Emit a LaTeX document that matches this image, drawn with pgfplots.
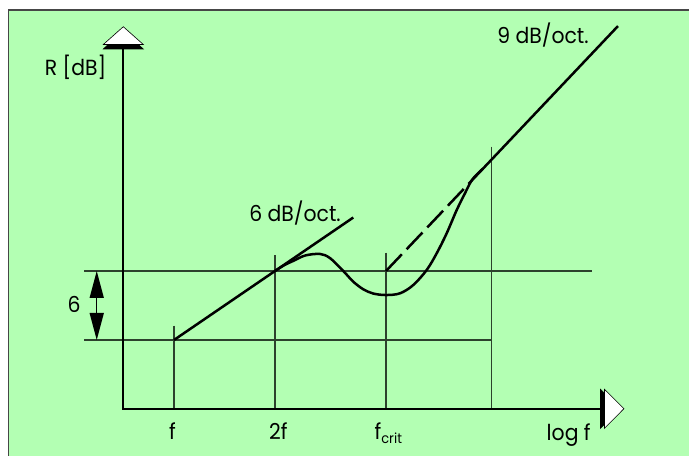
\documentclass[border=0pt]{standalone}
\usepackage{pgfplots}
\pgfplotsset{compat=1.18}
\usetikzlibrary{arrows.meta}
\usepackage{fontspec}
\setmainfont{Poppins}[FakeStretch=0.93]
\definecolor{bggreen}{RGB}{179,255,179}
\definecolor{gridc}{RGB}{45,65,45}
\definecolor{framec}{RGB}{70,70,70}
\newcommand{\lf}{\fontsize{22}{26}\selectfont}
\begin{document}
\begin{tikzpicture}
\fill[white] (0,0) rectangle (689bp,456bp);
\fill[bggreen] (8.5bp,0) rectangle (689bp,446bp);
\draw[framec, line width=1.5bp] (8.5bp,0) -- (8.5bp,446bp) -- (689bp,446bp);
\begin{axis}[
  at={(0,0)}, anchor=south west,
  scale only axis, width=689bp, height=456bp,
  xmin=-1.72277, xmax=5.09901, ymin=-10.08696, ymax=29.56522,
  axis lines=none, clip=false,
]
% thin reference lines
\addplot[gridc, line width=1.1bp] coordinates {(0,1.24) (0,-6)};
\addplot[gridc, line width=1.1bp] coordinates {(1,7.39) (1,-6)};
\addplot[gridc, line width=1.1bp] coordinates {(2.099,7.59) (2.099,-6)};
\addplot[gridc, line width=1.1bp] coordinates {(3.146,16.81) (3.146,-6)};
\addplot[gridc, line width=1.1bp] coordinates {(-0.891,6) (4.135,6)};
\addplot[gridc, line width=1.1bp] coordinates {(-0.891,0) (3.146,0)};
% axes
\addplot[black, line width=2.5bp] coordinates {(-0.505,25.48) (-0.505,-6) (4.228,-6)};
% arrow heads of the axes
\addplot[black, fill=black, line width=0.6bp] coordinates {(-0.700,25.304) (-0.502,26.870) (-0.304,25.304)} --cycle;
\addplot[black, fill=white, line width=0.6bp] coordinates {(-0.700,25.696) (-0.502,27.243) (-0.304,25.696)} --cycle;
\addplot[black, fill=black, line width=0.6bp] coordinates {(4.223,-4.287) (4.416,-5.974) (4.223,-7.678)} --cycle;
\addplot[black, fill=white, line width=0.6bp] coordinates {(4.262,-4.287) (4.455,-5.974) (4.262,-7.678)} --cycle;
% 6 dB/oct asymptote
\addplot[black, line width=2.5bp] coordinates {(0,0) (1.775,10.65)};
% 9 dB/oct asymptote
\addplot[black, line width=2.5bp, dash pattern=on 23bp off 7bp] coordinates {(2.099,6) (3.0,14.35)};
\addplot[black, line width=2.5bp] coordinates {(3.0,14.35) (4.396,27.30)};
% measured curve
\addplot[black, line width=2.5bp, smooth, tension=0.55] coordinates {
 (1,6) (1.09,6.50) (1.181,6.88) (1.30,7.35) (1.446,7.48) (1.545,7.12)
 (1.676,6.0) (1.775,5.07) (1.874,4.41) (1.973,4.04) (2.099,3.91)
 (2.238,4.06) (2.369,4.78) (2.502,6.09) (2.601,7.54) (2.700,9.28) (2.799,11.30)
 (2.881,12.76) (2.945,13.85) (3.0,14.40) (3.06,14.91)};
% 6 dB double arrow
\addplot[black, line width=1.5bp, {Triangle[length=27bp,width=14bp]}-{Triangle[length=27bp,width=14bp]}] coordinates {(-0.765,0) (-0.765,6)};
% texts
\node[anchor=base, inner sep=0pt, font=\lf] at (axis cs:-0.975,22.957) {R [dB]};
\node[anchor=base, inner sep=0pt, font=\lf] at (axis cs:1.198,10.261) {6 dB/oct.};
\node[anchor=base, inner sep=0pt, font=\lf] at (axis cs:3.653,25.739) {9 dB/oct.};
\node[anchor=base, inner sep=0pt, font=\lf] at (axis cs:-0.990,2.374) {6};
\node[anchor=base, inner sep=0pt, font=\lf] at (axis cs:-0.015,-8.609) {f};
\node[anchor=base, inner sep=0pt, font=\lf] at (axis cs:1.033,-8.609) {2f};
\node[anchor=base, inner sep=0pt, font=\lf] at (axis cs:2.122,-8.609) {f\raisebox{-4bp}{\fontsize{14}{14}\selectfont crit}};
\node[anchor=base, inner sep=0pt, font=\lf] at (axis cs:3.908,-8.696) {log f};
\end{axis}
\pgfresetboundingbox
\path (0,0) rectangle (689bp,456bp);
\end{tikzpicture}
\end{document}
